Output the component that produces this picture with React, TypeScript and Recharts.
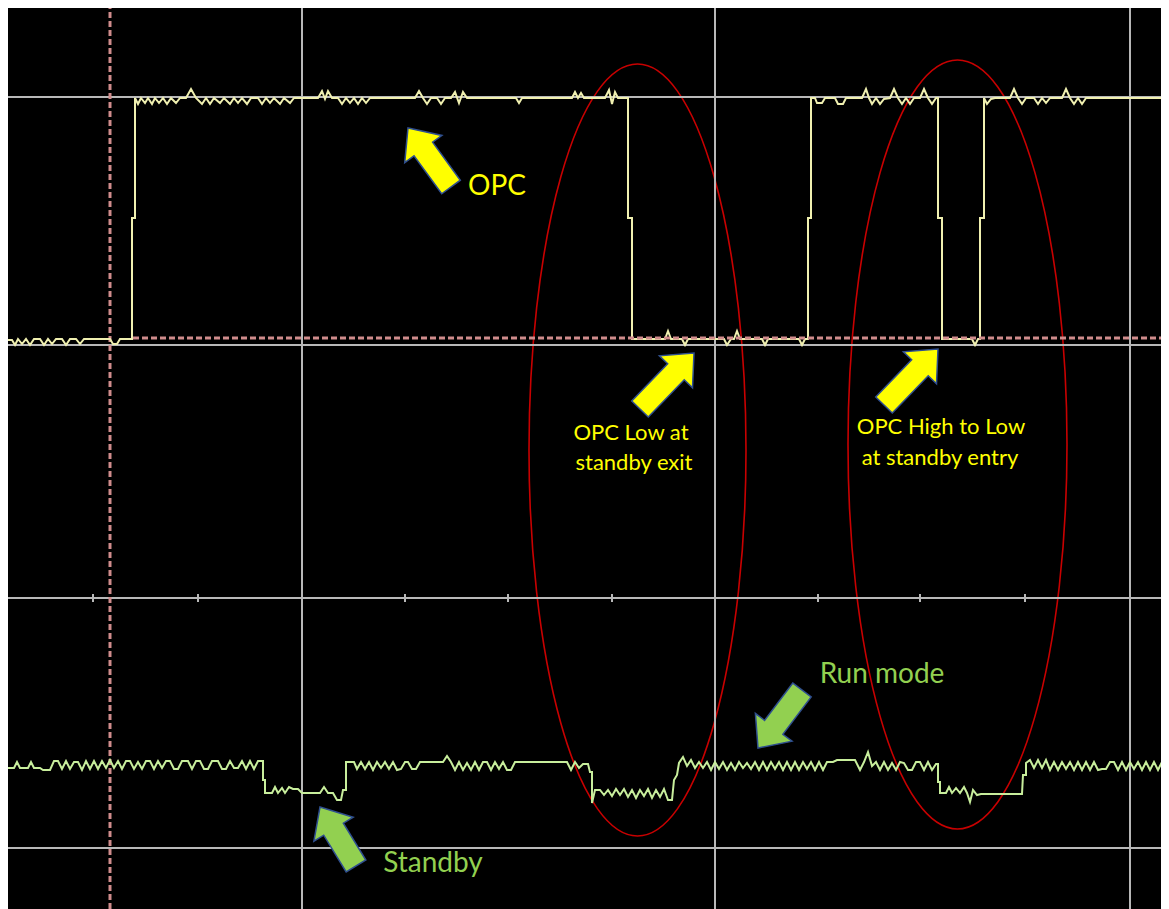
import { LineChart, Line, XAxis, YAxis, ReferenceLine, ReferenceArea, ReferenceDot } from 'recharts';

// Scope capture: time axis in screen samples, level axis in screen rows (top = 7)
const timeDomain = [7, 1167];
const levelDomain = [7, 909];

const gridTimes = [302, 715, 1130];
const gridLevels = [97, 345, 598, 848];
const minorTickTimes = [93, 198, 405, 508, 612, 818, 920, 1025];
const cursorTime = 110;
const triggerLevel = 338;
const triggerStart = 133;

// OPC channel (yellow)
const opcTrace = [
  [7, 340], [12, 340], [15, 345], [18, 339], [22, 344], [26, 339], [30, 345], [34, 339], [40, 339], [44, 345],
  [48, 339], [52, 344], [56, 339], [62, 339], [66, 345], [70, 339], [76, 339], [80, 344], [84, 339], [110, 339],
  [113, 344], [117, 344], [120, 339], [132, 339], [132, 218], [135, 218], [135, 98],
  [138, 104], [141, 98], [145, 103], [148, 98], [152, 104], [155, 98], [159, 103], [163, 98], [167, 104], [171, 98],
  [176, 103], [180, 98], [186, 98], [191, 89], [196, 98], [202, 104], [206, 98], [210, 104], [214, 98], [220, 103],
  [224, 98], [230, 104], [234, 98], [238, 103], [242, 98], [247, 104], [251, 98], [258, 98], [262, 104], [266, 98],
  [270, 103], [274, 98], [280, 104], [284, 98], [290, 103], [294, 98], [318, 98], [322, 91], [325, 99], [328, 91],
  [332, 98], [338, 98], [342, 104], [346, 98], [350, 103], [354, 98], [358, 104], [362, 98], [366, 103], [370, 98],
  [415, 98], [419, 91], [423, 98], [427, 104], [431, 98], [437, 98], [441, 104], [445, 98], [451, 98], [455, 92],
  [459, 103], [463, 92], [467, 98], [516, 98], [519, 103], [522, 98], [572, 98], [575, 92], [578, 98], [581, 93],
  [584, 98], [605, 98], [609, 90], [612, 104], [615, 92], [618, 98], [628, 98],
  [628, 218], [632, 218], [632, 339],
  [665, 339], [668, 331], [671, 339], [682, 339], [685, 345], [688, 339], [724, 339], [727, 345], [731, 339],
  [734, 339], [737, 331], [740, 339], [762, 339], [765, 345], [768, 339], [799, 339], [802, 345], [805, 339], [808, 339],
  [808, 218], [811, 218], [811, 98],
  [815, 98], [817, 103], [822, 103], [825, 98], [835, 98], [838, 104], [843, 104], [846, 98], [862, 98], [866, 89],
  [869, 98], [872, 104], [876, 98], [880, 104], [884, 99], [890, 98], [894, 89], [898, 98], [902, 104], [906, 98],
  [910, 104], [914, 98], [920, 98], [924, 89], [928, 98], [932, 104], [936, 98], [938, 98],
  [938, 218], [942, 218], [942, 339],
  [972, 339], [975, 345], [978, 339], [980, 339],
  [980, 218], [984, 218], [984, 98],
  [987, 104], [991, 99], [995, 98], [1010, 98], [1014, 89], [1018, 98], [1022, 104], [1026, 98], [1034, 98],
  [1038, 104], [1042, 98], [1046, 103], [1050, 98], [1062, 98], [1066, 89], [1070, 98], [1074, 104], [1078, 98],
  [1082, 104], [1086, 98], [1167, 98],
];

// Power mode channel (green): run ~765, standby ~793
const modeTrace = [
  [7, 768], [14, 768], [17, 762], [20, 768], [28, 768], [31, 762], [34, 768], [40, 768], [43, 770], [50, 770],
  [54, 761], [58, 761], [62, 769], [66, 761], [70, 769], [74, 762], [78, 762], [82, 770], [86, 761], [90, 769],
  [94, 761], [98, 769], [102, 761], [106, 768], [110, 760], [114, 768], [118, 761], [122, 769], [126, 761], [130, 761],
  [134, 769], [138, 762], [142, 769], [146, 761], [150, 761], [154, 769], [158, 761], [162, 768], [166, 761], [170, 761],
  [174, 769], [178, 769], [182, 761], [188, 761], [192, 769], [196, 761], [200, 761], [204, 769], [208, 769], [212, 761],
  [218, 761], [222, 769], [226, 769], [230, 761], [234, 768], [238, 768], [242, 761], [246, 769], [250, 761], [254, 769],
  [258, 761], [263, 761], [263, 780], [265, 780], [265, 793],
  [272, 793], [275, 787], [278, 793], [282, 788], [285, 793], [289, 787], [293, 789], [298, 789], [302, 793], [320, 793],
  [324, 787], [328, 793], [333, 793], [337, 800], [341, 800], [343, 790], [346, 790], [346, 762],
  [354, 762], [357, 769], [361, 762], [365, 769], [369, 762], [373, 770], [377, 762], [381, 768], [385, 762], [389, 769],
  [393, 762], [397, 770], [401, 769], [405, 762], [408, 762], [412, 769], [416, 769], [420, 762], [443, 762], [447, 756],
  [451, 762], [455, 770], [459, 762], [463, 770], [467, 763], [471, 770], [475, 762], [479, 770], [483, 762], [487, 762],
  [491, 770], [495, 762], [499, 769], [503, 762], [507, 770], [511, 770], [515, 762], [567, 762], [571, 770], [575, 762],
  [579, 768], [583, 764], [588, 764], [590, 772], [592, 772], [592, 803],
  [595, 790], [600, 790], [604, 795], [608, 790], [612, 796], [616, 789], [620, 795], [624, 789], [628, 797], [632, 790],
  [636, 798], [640, 790], [644, 796], [648, 789], [652, 798], [656, 790], [660, 797], [664, 789], [668, 800], [672, 800],
  [674, 780], [677, 775], [679, 763],
  [683, 757], [687, 766], [691, 760], [695, 768], [699, 762], [703, 768], [707, 762], [711, 770], [715, 762], [719, 769],
  [723, 762], [727, 770], [731, 763], [735, 770], [739, 762], [743, 768], [747, 763], [751, 769], [755, 762], [759, 770],
  [763, 762], [767, 770], [771, 762], [775, 769], [779, 762], [783, 770], [787, 762], [791, 770], [795, 762], [799, 770],
  [803, 762], [807, 769], [811, 762], [815, 770], [819, 762], [823, 770], [827, 762], [833, 762], [837, 760], [855, 760],
  [860, 770], [864, 762], [868, 752], [872, 766], [876, 762], [880, 770], [884, 762], [888, 770], [892, 763], [896, 770],
  [900, 762], [904, 763], [908, 770], [912, 770], [916, 762], [920, 762], [924, 770], [928, 762], [932, 770], [936, 764],
  [938, 764], [938, 782], [940, 782], [940, 793],
  [946, 793], [949, 787], [952, 793], [956, 788], [960, 793], [964, 787], [967, 793], [970, 802], [973, 790], [977, 795],
  [981, 794], [1022, 794], [1023, 775], [1026, 775], [1026, 763],
  [1030, 760], [1034, 768], [1038, 760], [1042, 768], [1046, 760], [1050, 770], [1054, 762], [1058, 770], [1062, 762],
  [1066, 769], [1070, 762], [1074, 770], [1078, 762], [1082, 770], [1086, 762], [1090, 770], [1094, 762], [1098, 770],
  [1102, 769], [1106, 769], [1110, 762], [1114, 762], [1118, 770], [1122, 762], [1126, 770], [1130, 762], [1134, 769],
  [1138, 762], [1142, 770], [1146, 762], [1150, 770], [1154, 762], [1158, 770], [1162, 762], [1167, 768],
];

// Callouts
const highlightRegions = [
  { t1: 529, t2: 746, l1: 64, l2: 836 },
  { t1: 848, t2: 1067, l1: 60, l2: 829 },
];

const YELLOW = '#ffff00';
const GREEN = '#92d050';

const arrows = [
  { from: [451, 187], to: [408, 128], fill: YELLOW },
  { from: [640, 409], to: [694, 353], fill: YELLOW },
  { from: [884, 405], to: [938, 349], fill: YELLOW },
  { from: [802, 690], to: [758, 748], fill: GREEN },
  { from: [356, 866], to: [320, 807], fill: GREEN },
];

const labels = [
  { t: 497, l: 195, text: 'OPC', color: YELLOW, size: 28 },
  { t: 631, l: 440, text: 'OPC Low at', color: YELLOW, size: 22 },
  { t: 634, l: 470, text: 'standby exit', color: YELLOW, size: 22 },
  { t: 941, l: 434, text: 'OPC High to Low', color: YELLOW, size: 22 },
  { t: 940, l: 465, text: 'at standby entry', color: YELLOW, size: 22 },
  { t: 882, l: 683, text: 'Run mode', color: GREEN, size: 28 },
  { t: 433, l: 872, text: 'Standby', color: GREEN, size: 28 },
];

const toPoints = (arr: number[][]) => arr.map(([t, v]) => ({ t, v }));
const opcData = toPoints(opcTrace);
const modeData = toPoints(modeTrace);

const BlockArrow = (fill: string) => (props: any) => {
  const { x1, y1, x2, y2 } = props;
  const dx = x2 - x1;
  const dy = y2 - y1;
  const len = Math.hypot(dx, dy) || 1;
  const ux = dx / len, uy = dy / len;
  const nx = -uy, ny = ux;
  const sw = 11.5, hw = 23, hl = 26;
  const bx = x2 - ux * hl, by = y2 - uy * hl;
  const pts = [
    [x1 + nx * sw, y1 + ny * sw],
    [bx + nx * sw, by + ny * sw],
    [bx + nx * hw, by + ny * hw],
    [x2, y2],
    [bx - nx * hw, by - ny * hw],
    [bx - nx * sw, by - ny * sw],
    [x1 - nx * sw, y1 - ny * sw],
  ];
  return <polygon points={pts.map((p) => p.join(',')).join(' ')} fill={fill} stroke="#2f4f8f" strokeWidth={1.5} />;
};

const EllipseShape = (props: any) => {
  const { x, y, width, height } = props;
  return (
    <ellipse cx={x + width / 2} cy={y + height / 2} rx={width / 2} ry={height / 2} fill="none" stroke="#c80000" strokeWidth={1.6} />
  );
};

const TextShape = (text: string, color: string, size: number) => (props: any) => (
  <text x={props.cx} y={props.cy} textAnchor="middle" fill={color} fontSize={size} fontFamily="Lato, 'Open Sans', sans-serif">
    {text}
  </text>
);

export default function App() {
  return (
    <div style={{ margin: '-1px 0 0 -1px', width: 1160, height: 902, background: '#000' }}>
      <LineChart width={1160} height={902} margin={{ top: 0, right: 0, bottom: 0, left: 0 }}>
        <XAxis type="number" dataKey="t" domain={timeDomain} hide allowDataOverflow />
        <YAxis type="number" dataKey="v" domain={levelDomain} reversed hide allowDataOverflow />
        {gridTimes.map((t) => (
          <ReferenceLine key={`gx${t}`} x={t} stroke="#b8b8b8" strokeWidth={2} />
        ))}
        {gridLevels.map((l) => (
          <ReferenceLine key={`gy${l}`} y={l} stroke="#b8b8b8" strokeWidth={2} />
        ))}
        {minorTickTimes.map((t) => (
          <ReferenceLine key={`mt${t}`} segment={[{ x: t, y: 594 }, { x: t, y: 602 }]} stroke="#b8b8b8" strokeWidth={2} />
        ))}
        <ReferenceLine x={cursorTime} stroke="#d08c8c" strokeWidth={3} strokeDasharray="6 3" />
        <Line data={opcData} dataKey="v" type="linear" stroke="#f0f0b0" strokeWidth={2} dot={false} isAnimationActive={false} />
        <Line data={modeData} dataKey="v" type="linear" stroke="#c8ee9c" strokeWidth={2} dot={false} isAnimationActive={false} />
        <ReferenceLine
          segment={[{ x: triggerStart, y: triggerLevel }, { x: timeDomain[1], y: triggerLevel }]}
          stroke="#d08c8c"
          strokeWidth={3}
          strokeDasharray="6 3"
        />
        {highlightRegions.map((r, i) => (
          <ReferenceArea key={`e${i}`} x1={r.t1} x2={r.t2} y1={r.l1} y2={r.l2} shape={EllipseShape} />
        ))}
        {arrows.map((a, i) => (
          <ReferenceLine
            key={`a${i}`}
            segment={[{ x: a.from[0], y: a.from[1] }, { x: a.to[0], y: a.to[1] }]}
            shape={BlockArrow(a.fill)}
          />
        ))}
        {labels.map((lb) => (
          <ReferenceDot key={lb.text} x={lb.t} y={lb.l} r={1} shape={TextShape(lb.text, lb.color, lb.size)} />
        ))}
      </LineChart>
    </div>
  );
}
